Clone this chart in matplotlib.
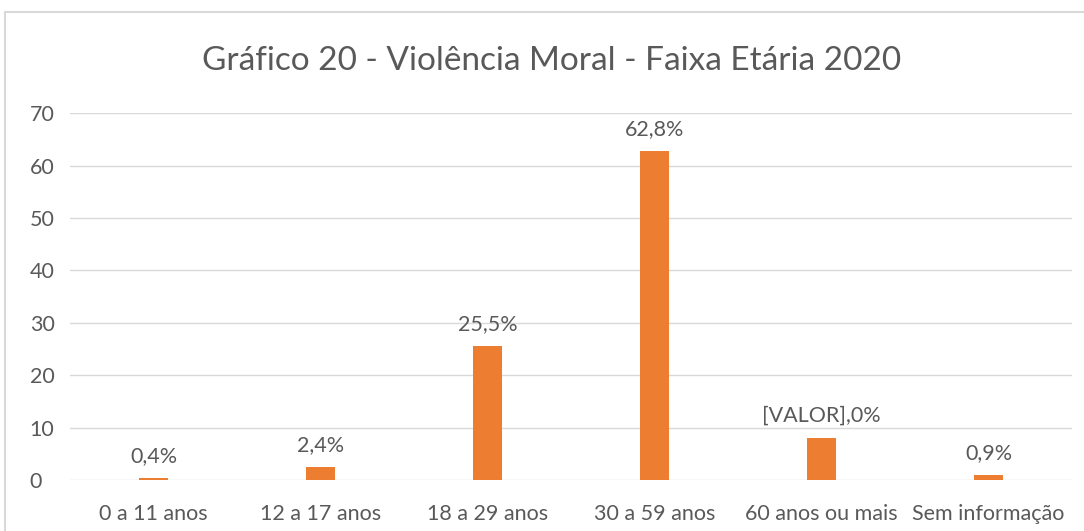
import matplotlib.pyplot as plt
from matplotlib.patches import Rectangle

# Data
categories = ["0 a 11 anos", "12 a 17 anos", "18 a 29 anos", "30 a 59 anos",
              "60 anos ou mais", "Sem informação"]
values = [0.4, 2.4, 25.5, 62.8, 8.0, 0.9]
labels = ["0,4%", "2,4%", "25,5%", "62,8%", "[VALOR],0%", "0,9%"]
yticks = [0, 10, 20, 30, 40, 50, 60, 70]

plt.rcParams["font.family"] = ["Lato", "DejaVu Sans"]
text_color = "#595959"

fig = plt.figure(figsize=(10.84, 5.31), dpi=100)
ax = fig.add_axes([0.0646, 0.096, 0.9244, 0.691])

# chart border
fig.patches.append(Rectangle((5 / 1084, -0.1), 1.2, 1 - 12 / 531 + 0.1,
                             transform=fig.transFigure, fill=False,
                             edgecolor="#d9d9d9", linewidth=1.5))

x = range(len(categories))
bars = ax.bar(x, values, width=0.17, color="#ED7D31", zorder=3)

for b, lab in zip(bars, labels):
    ax.text(b.get_x() + b.get_width() / 2, b.get_height() + 2.3, lab,
            ha="center", va="bottom", fontsize=15.5, color=text_color)

ax.set_ylim(0, 70)
ax.set_xlim(-0.5, len(categories) - 0.5)
ax.set_yticks(yticks)
ax.set_xticks(list(x))
ax.set_xticklabels(categories)
ax.tick_params(axis="both", length=0, labelsize=15.5, colors=text_color)
ax.tick_params(axis="x", pad=17)
ax.tick_params(axis="y", pad=29)
for lbl in ax.get_yticklabels():
    lbl.set_horizontalalignment("left")
ax.yaxis.grid(True, color="#d9d9d9", linewidth=1, zorder=0)
for s in ax.spines.values():
    s.set_visible(False)

fig.text(0.509, 0.885, "Gráfico 20 - Violência Moral - Faixa Etária 2020",
         ha="center", va="center", fontsize=24, color=text_color)

fig.savefig("out.png", dpi=100)
